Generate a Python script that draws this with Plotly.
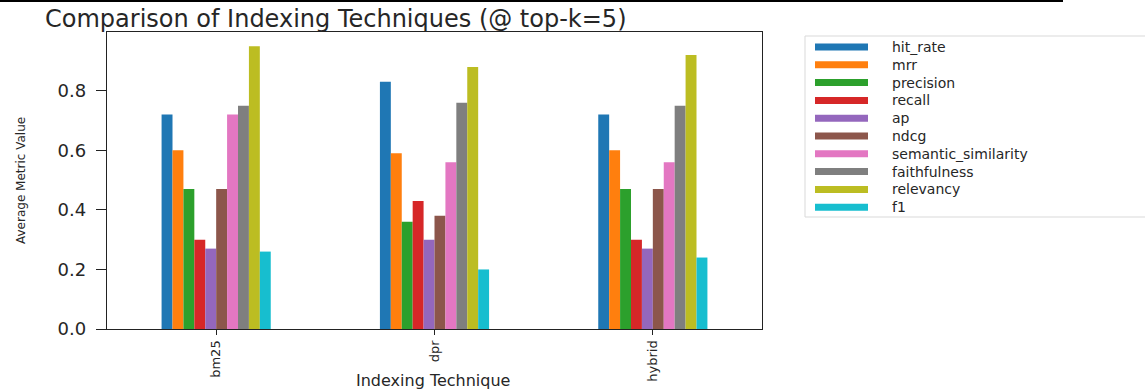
import plotly.graph_objects as go

# Average metric values per indexing technique (top-k = 5)
techniques = ["bm25", "dpr", "hybrid"]
metrics = ["hit_rate", "mrr", "precision", "recall", "ap", "ndcg",
           "semantic_similarity", "faithfulness", "relevancy", "f1"]

hit_rate = [0.72, 0.83, 0.72]
mrr = [0.60, 0.59, 0.60]
precision = [0.47, 0.36, 0.47]
recall = [0.30, 0.43, 0.30]
ap = [0.27, 0.30, 0.27]
ndcg = [0.47, 0.38, 0.47]
semantic_similarity = [0.72, 0.56, 0.56]
faithfulness = [0.75, 0.76, 0.75]
relevancy = [0.95, 0.88, 0.92]
f1 = [0.26, 0.20, 0.24]

series = [hit_rate, mrr, precision, recall, ap, ndcg,
          semantic_similarity, faithfulness, relevancy, f1]

colors = ["#1f77b4", "#ff7f0e", "#2ca02c", "#d62728", "#9467bd",
          "#8c564b", "#e377c2", "#7f7f7f", "#bcbd22", "#17becf"]

W, H = 1145, 391
L, R, T, B = 107, 762, 32, 329   # plot area in pixels
PW, PH = R - L, B - T


def px(x):
    return (x - L) / PW


def py(y):
    return (B - y) / PH


TXT = "#262626"
FONT = "DejaVu Sans"

fig = go.Figure()
for name, vals, c in zip(metrics, series, colors):
    fig.add_trace(go.Bar(x=techniques, y=vals, name=name,
                         marker=dict(color=c, line=dict(width=0)),
                         showlegend=False))

fig.update_layout(
    width=W, height=H,
    margin=dict(l=L, r=W - R, t=T, b=H - B, pad=0, autoexpand=False),
    paper_bgcolor="white", plot_bgcolor="white",
    barmode="group", bargap=0.5, bargroupgap=0,
    font=dict(family=FONT, color=TXT),
)

fig.update_xaxes(
    type="category", range=[-0.5, 2.5], automargin=False,
    showline=True, linecolor="#222", linewidth=1.3, mirror=True,
    ticks="outside", ticklen=5, tickcolor="#222",
    tickangle=-90, tickfont=dict(size=13, family=FONT, color=TXT),
    showgrid=False, zeroline=False,
)
fig.update_yaxes(
    range=[0, 0.9975], automargin=False,
    tickvals=[0, 0.2, 0.4, 0.6, 0.8], tickformat=".1f",
    showline=True, linecolor="#222", linewidth=1.3, mirror=True,
    ticks="outside", ticklen=10, tickcolor="#222", ticklabelstandoff=6,
    tickfont=dict(size=18, family=FONT, color=TXT),
    showgrid=False, zeroline=False,
)

# separator rule along the top edge
fig.add_shape(type="line", xref="paper", yref="paper",
              x0=px(0), x1=px(1063), y0=py(1), y1=py(1),
              line=dict(color="black", width=2))

# title, axis titles
fig.add_annotation(text="Comparison of Indexing Techniques (@ top-k=5)",
                   xref="paper", yref="paper", x=px(43), y=py(19),
                   xanchor="left", yanchor="middle", showarrow=False,
                   font=dict(size=24, family=FONT, color=TXT))
fig.add_annotation(text="Average Metric Value", textangle=-90,
                   xref="paper", yref="paper", x=px(21), y=py(181),
                   xanchor="center", yanchor="middle", showarrow=False,
                   font=dict(size=12, family=FONT, color=TXT))
fig.add_annotation(text="Indexing Technique",
                   xref="paper", yref="paper", x=px(433), y=py(380),
                   xanchor="center", yanchor="middle", showarrow=False,
                   font=dict(size=16, family=FONT, color=TXT))

# legend box with swatches
fig.add_shape(type="rect", xref="paper", yref="paper",
              x0=px(805), x1=px(1160), y0=py(217), y1=py(36),
              line=dict(color="#d9d9d9", width=1), fillcolor="white")
for i, (name, c) in enumerate(zip(metrics, colors)):
    yc = 47 + i * 17.8
    fig.add_shape(type="rect", xref="paper", yref="paper",
                  x0=px(815), x1=px(868), y0=py(yc + 3.5), y1=py(yc - 3.5),
                  line=dict(width=0), fillcolor=c)
    fig.add_annotation(text=name, xref="paper", yref="paper",
                       x=px(890), y=py(yc), xanchor="left", yanchor="middle",
                       showarrow=False,
                       font=dict(size=14, family=FONT, color=TXT))

fig.write_html("out.html")
